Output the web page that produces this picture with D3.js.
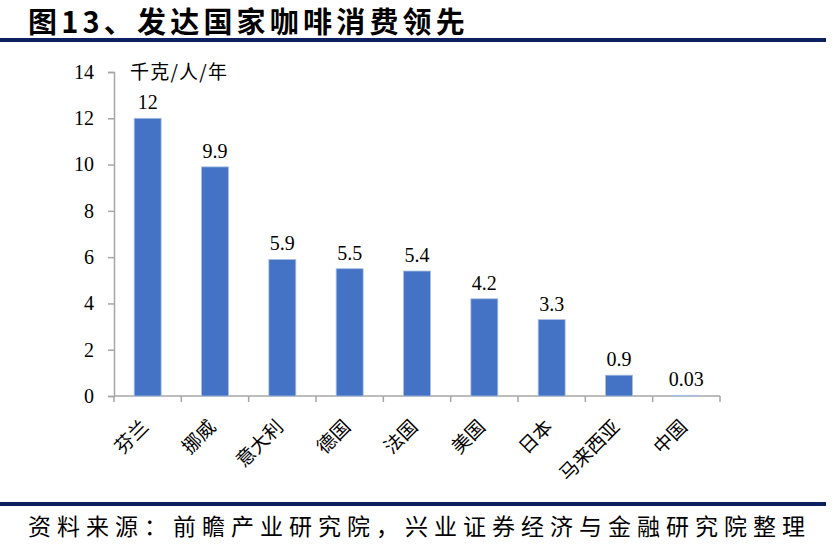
<!DOCTYPE html>
<html>
<head>
<meta charset="utf-8">
<script src="https://cdn.jsdelivr.net/npm/d3@7.9.0/dist/d3.min.js"></script>
<style>
  body { margin: 0; background: #fff; }
  svg { display: block; }
</style>
</head>
<body>
<script>
// chart data
const countries = ["芬兰", "挪威", "意大利", "德国", "法国", "美国", "日本", "马来西亚", "中国"];
const consumption = [12, 9.9, 5.9, 5.5, 5.4, 4.2, 3.3, 0.9, 0.03];
const yTicks = [0, 2, 4, 6, 8, 10, 12, 14];

const W = 834, H = 560;
const margin = { top: 72, right: 114, bottom: 164, left: 114 };
const width = W - margin.left - margin.right;
const height = H - margin.top - margin.bottom;

const numFont = "'Liberation Serif', 'Times New Roman', serif";
const cjkFont = "'Noto Sans CJK SC', 'Liberation Serif', serif";

const svg = d3.select("body").append("svg")
    .attr("width", W)
    .attr("height", H);

// title + rules
svg.append("text")
    .attr("x", 28)
    .attr("y", 33)
    .attr("font-family", cjkFont)
    .attr("font-weight", "bold")
    .attr("font-size", 29)
    .attr("letter-spacing", 4.2)
    .attr("fill", "#000")
    .text("图13、发达国家咖啡消费领先");

svg.append("rect").attr("x", 0).attr("y", 38).attr("width", 826).attr("height", 4).attr("fill", "#0b2160");
svg.append("rect").attr("x", 0).attr("y", 502).attr("width", 826).attr("height", 4).attr("fill", "#0b2160");

svg.append("text")
    .attr("x", 28)
    .attr("y", 535)
    .attr("font-family", cjkFont)
    .attr("font-size", 23)
    .attr("letter-spacing", 6)
    .attr("fill", "#000")
    .text("资料来源：前瞻产业研究院，兴业证券经济与金融研究院整理");

const g = svg.append("g")
    .attr("transform", `translate(${margin.left},${margin.top})`);

// scales
const x = d3.scaleBand()
    .domain(countries)
    .range([0, width])
    .paddingInner(0.6)
    .paddingOuter(0.3);

const y = d3.scaleLinear()
    .domain([0, 14])
    .range([height, 0]);

// y axis
const yAxis = g.append("g")
    .call(d3.axisLeft(y).tickValues(yTicks).tickSize(6).tickPadding(14));
yAxis.select(".domain").attr("stroke", "#a6a6a6").attr("stroke-width", 1.5);
yAxis.selectAll(".tick line").attr("stroke", "#a6a6a6").attr("stroke-width", 1.5);
yAxis.selectAll(".tick text")
    .attr("font-family", numFont)
    .attr("font-size", 20)
    .attr("fill", "#000");

// x axis: ticks at band boundaries
const xAxis = g.append("g")
    .attr("transform", `translate(0,${height})`);
xAxis.append("line")
    .attr("x1", 0).attr("x2", width)
    .attr("stroke", "#a6a6a6").attr("stroke-width", 1.5);
const step = x.step();
const bounds = d3.range(countries.length + 1).map(i => i * step);
xAxis.selectAll(".xtick")
    .data(bounds)
    .enter().append("line")
    .attr("class", "xtick")
    .attr("x1", d => d).attr("x2", d => d)
    .attr("y1", 0).attr("y2", 6)
    .attr("stroke", "#a6a6a6").attr("stroke-width", 1.5);

xAxis.selectAll(".xlabel")
    .data(countries)
    .enter().append("text")
    .attr("class", "xlabel")
    .attr("text-anchor", "end")
    .attr("font-family", cjkFont)
    .attr("font-size", 19)
    .attr("fill", "#000")
    .attr("transform", d => `translate(${x(d) + x.bandwidth() / 2 + 2},${32}) rotate(-45)`)
    .text(d => d);

// bars
const data = countries.map((c, i) => ({ country: c, value: consumption[i] }));

g.selectAll(".bar")
    .data(data)
    .enter().append("rect")
    .attr("class", "bar")
    .attr("x", d => x(d.country))
    .attr("y", d => y(d.value))
    .attr("width", x.bandwidth())
    .attr("height", d => height - y(d.value))
    .attr("fill", "#4472c4")
    .attr("stroke", "#a9bfe6")
    .attr("stroke-width", 0.8);

// value labels
g.selectAll(".vlabel")
    .data(data)
    .enter().append("text")
    .attr("class", "vlabel")
    .attr("text-anchor", "middle")
    .attr("x", d => x(d.country) + x.bandwidth() / 2)
    .attr("y", d => y(d.value) - 9)
    .attr("font-family", numFont)
    .attr("font-size", 20)
    .attr("fill", "#000")
    .text(d => d.value);

// unit label
g.append("text")
    .attr("x", 16)
    .attr("y", 7)
    .attr("font-family", cjkFont)
    .attr("font-size", 19)
    .attr("letter-spacing", 1.2)
    .attr("fill", "#000")
    .text("千克/人/年");
</script>
</body>
</html>
